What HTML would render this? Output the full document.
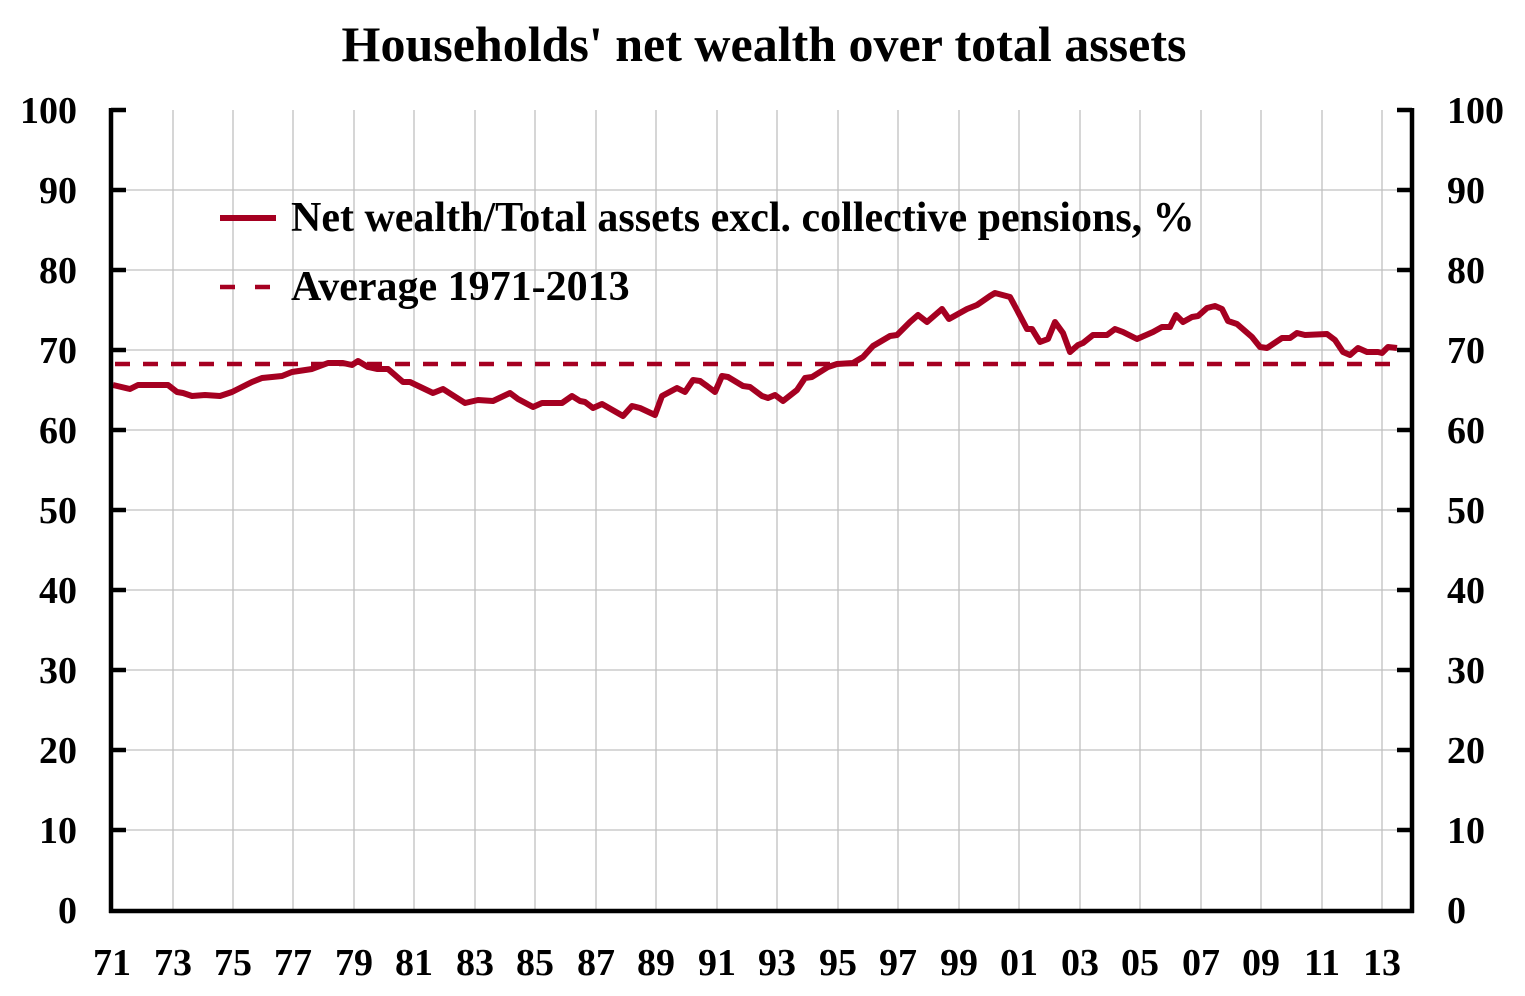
<!DOCTYPE html>
<html><head><meta charset="utf-8"><style>body{margin:0;background:#fff}svg{display:block}text{font-family:"Liberation Serif",serif;font-weight:bold;fill:#000}</style></head>
<body>
<svg width="1525" height="996" viewBox="0 0 1525 996">
<text x="764" y="61" font-size="50" text-anchor="middle">Households' net wealth over total assets</text>
<g stroke="#c0c0c0" stroke-width="1.3">
<line x1="111" y1="190" x2="1412" y2="190"/><line x1="111" y1="270" x2="1412" y2="270"/><line x1="111" y1="350" x2="1412" y2="350"/><line x1="111" y1="430" x2="1412" y2="430"/><line x1="111" y1="510" x2="1412" y2="510"/><line x1="111" y1="590" x2="1412" y2="590"/><line x1="111" y1="670" x2="1412" y2="670"/><line x1="111" y1="750" x2="1412" y2="750"/><line x1="111" y1="830" x2="1412" y2="830"/>
<line x1="173" y1="110" x2="173" y2="911"/><line x1="233" y1="110" x2="233" y2="911"/><line x1="293" y1="110" x2="293" y2="911"/><line x1="354" y1="110" x2="354" y2="911"/><line x1="414" y1="110" x2="414" y2="911"/><line x1="475" y1="110" x2="475" y2="911"/><line x1="535" y1="110" x2="535" y2="911"/><line x1="596" y1="110" x2="596" y2="911"/><line x1="656" y1="110" x2="656" y2="911"/><line x1="717" y1="110" x2="717" y2="911"/><line x1="777" y1="110" x2="777" y2="911"/><line x1="838" y1="110" x2="838" y2="911"/><line x1="898" y1="110" x2="898" y2="911"/><line x1="959" y1="110" x2="959" y2="911"/><line x1="1019" y1="110" x2="1019" y2="911"/><line x1="1080" y1="110" x2="1080" y2="911"/><line x1="1140" y1="110" x2="1140" y2="911"/><line x1="1201" y1="110" x2="1201" y2="911"/><line x1="1261" y1="110" x2="1261" y2="911"/><line x1="1322" y1="110" x2="1322" y2="911"/><line x1="1382" y1="110" x2="1382" y2="911"/>
</g>
<line x1="115" y1="364" x2="1395" y2="364" stroke="#a50021" stroke-width="4.5" stroke-dasharray="15,13"/>
<polyline fill="none" stroke="#a50021" stroke-width="6" stroke-linejoin="round" points="113,385 130,389 138,385 155,385 168,385 177,392 183,393 192,396 205,395 220,396 232,392 238,389 252,382 262,378 282,376 292,372 312,369 328,363 343,363 352,365 358,361 368,367 377,369 388,369 403,382 410,382 433,393 443,389 465,403 478,400 493,401 510,393 518,399 533,407 542,403 562,403 572,396 580,401 585,402 593,408 602,404 623,416 632,406 640,408 655,415 662,396 677,388 685,392 693,380 700,381 707,386 715,392 722,376 728,377 743,386 750,387 762,396 768,398 775,395 783,401 797,390 805,378 812,377 828,367 837,364 853,363 863,357 873,346 890,336 897,335 910,322 918,315 927,322 942,309 949,319 967,309 977,305 990,296 995,293 1010,297 1017,310 1027,329 1032,329 1040,342 1048,339 1055,322 1063,333 1070,352 1078,345 1083,343 1093,335 1107,335 1115,329 1123,332 1137,339 1153,332 1162,327 1170,327 1176,315 1183,322 1192,317 1198,316 1207,308 1215,306 1222,309 1228,321 1237,324 1252,337 1260,347 1267,348 1282,338 1290,338 1297,333 1305,335 1327,334 1335,340 1343,352 1350,355 1358,348 1367,352 1378,352 1382,353 1388,347 1397,348"/>
<g stroke="#000" stroke-width="4.5">
<line x1="111" y1="108" x2="111" y2="913"/><line x1="1412" y1="108" x2="1412" y2="913"/><line x1="109" y1="911" x2="1414" y2="911"/>
</g>
<g stroke="#000" stroke-width="4.5">
<line x1="111" y1="110" x2="126" y2="110"/><line x1="111" y1="190" x2="126" y2="190"/><line x1="111" y1="270" x2="126" y2="270"/><line x1="111" y1="350" x2="126" y2="350"/><line x1="111" y1="430" x2="126" y2="430"/><line x1="111" y1="510" x2="126" y2="510"/><line x1="111" y1="590" x2="126" y2="590"/><line x1="111" y1="670" x2="126" y2="670"/><line x1="111" y1="750" x2="126" y2="750"/><line x1="111" y1="830" x2="126" y2="830"/>
<line x1="1397" y1="110" x2="1412" y2="110"/><line x1="1397" y1="190" x2="1412" y2="190"/><line x1="1397" y1="270" x2="1412" y2="270"/><line x1="1397" y1="350" x2="1412" y2="350"/><line x1="1397" y1="430" x2="1412" y2="430"/><line x1="1397" y1="510" x2="1412" y2="510"/><line x1="1397" y1="590" x2="1412" y2="590"/><line x1="1397" y1="670" x2="1412" y2="670"/><line x1="1397" y1="750" x2="1412" y2="750"/><line x1="1397" y1="830" x2="1412" y2="830"/>
</g>
<g font-size="38" text-anchor="end">
<text x="77" y="123">100</text><text x="77" y="203">90</text><text x="77" y="283">80</text><text x="77" y="363">70</text><text x="77" y="443">60</text><text x="77" y="523">50</text><text x="77" y="603">40</text><text x="77" y="683">30</text><text x="77" y="763">20</text><text x="77" y="843">10</text><text x="77" y="923">0</text>
</g>
<g font-size="38">
<text x="1447" y="123">100</text><text x="1447" y="203">90</text><text x="1447" y="283">80</text><text x="1447" y="363">70</text><text x="1447" y="443">60</text><text x="1447" y="523">50</text><text x="1447" y="603">40</text><text x="1447" y="683">30</text><text x="1447" y="763">20</text><text x="1447" y="843">10</text><text x="1447" y="923">0</text>
</g>
<g font-size="38" text-anchor="middle">
<text x="112" y="975">71</text><text x="173" y="975">73</text><text x="233" y="975">75</text><text x="293" y="975">77</text><text x="354" y="975">79</text><text x="414" y="975">81</text><text x="475" y="975">83</text><text x="535" y="975">85</text><text x="596" y="975">87</text><text x="656" y="975">89</text><text x="717" y="975">91</text><text x="777" y="975">93</text><text x="838" y="975">95</text><text x="898" y="975">97</text><text x="959" y="975">99</text><text x="1019" y="975">01</text><text x="1080" y="975">03</text><text x="1140" y="975">05</text><text x="1201" y="975">07</text><text x="1261" y="975">09</text><text x="1322" y="975">11</text><text x="1382" y="975">13</text>
</g>
<line x1="220" y1="218" x2="276" y2="218" stroke="#a50021" stroke-width="6"/>
<line x1="220" y1="287" x2="276" y2="287" stroke="#a50021" stroke-width="4.5" stroke-dasharray="15,20"/>
<text x="291" y="231" font-size="42">Net wealth/Total assets excl. collective pensions, %</text>
<text x="291" y="300" font-size="42">Average 1971-2013</text>
</svg>
</body></html>
